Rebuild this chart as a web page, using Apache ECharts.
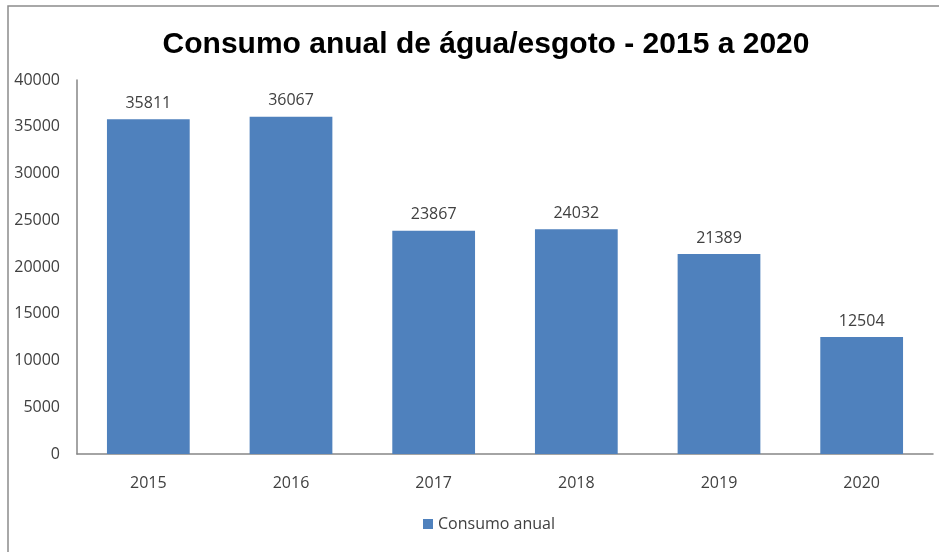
<!DOCTYPE html>
<html>
<head>
<meta charset="utf-8">
<script src="https://cdn.jsdelivr.net/npm/echarts@6/dist/echarts.min.js"></script>
<style>
  html, body { margin: 0; padding: 0; background: #fff; }
  #chart { width: 939px; height: 552px; }
</style>
</head>
<body>
<div id="chart"></div>
<script>
const years = ["2015", "2016", "2017", "2018", "2019", "2020"];
const consumo = [35811, 36067, 23867, 24032, 21389, 12504];
const seriesName = "Consumo anual";
const titleText = "Consumo anual de água/esgoto - 2015 a 2020";

const chart = echarts.init(document.getElementById("chart"));

const option = {
    animation: false,
    backgroundColor: "#fff",
    graphic: [{
        type: "rect",
        shape: { x: 8, y: 6, width: 1000, height: 600 },
        style: { fill: "none", stroke: "#8c8c8c", lineWidth: 1.5 },
        silent: true
    }],
    title: {
        text: titleText,
        left: 481,
        textAlign: "center",
        top: 25,
        textStyle: {
            fontFamily: "Liberation Sans",
            fontWeight: "bold",
            fontSize: 30,
            color: "#000"
        }
    },
    legend: {
        data: [seriesName],
        bottom: 15,
        left: 418,
        itemWidth: 10,
        itemHeight: 10,
        icon: "rect",
        textStyle: {
            fontFamily: "Open Sans",
            fontSize: 16,
            color: "#404040"
        }
    },
    grid: {
        left: 77,
        right: 6,
        top: 80,
        bottom: 98
    },
    xAxis: {
        type: "category",
        data: years,
        axisLine: { lineStyle: { color: "#868686", width: 1.5 } },
        axisTick: { show: false },
        axisLabel: {
            margin: 21,
            fontFamily: "Open Sans",
            fontSize: 16,
            color: "#404040"
        }
    },
    yAxis: {
        type: "value",
        min: 0,
        max: 40000,
        interval: 5000,
        axisLine: { show: true, lineStyle: { color: "#868686", width: 1.5 } },
        axisTick: { show: false },
        splitLine: { show: false },
        axisLabel: {
            margin: 17,
            fontFamily: "Open Sans",
            fontSize: 16,
            color: "#404040",
            formatter: (v) => String(v)
        }
    },
    series: [{
        name: seriesName,
        type: "bar",
        data: consumo,
        barWidth: "58%",
        itemStyle: { color: "#4F81BD" },
        label: {
            show: true,
            position: "top",
            distance: 8,
            fontFamily: "Open Sans",
            fontSize: 16,
            color: "#404040"
        }
    }]
};

chart.setOption(option);
</script>
</body>
</html>
